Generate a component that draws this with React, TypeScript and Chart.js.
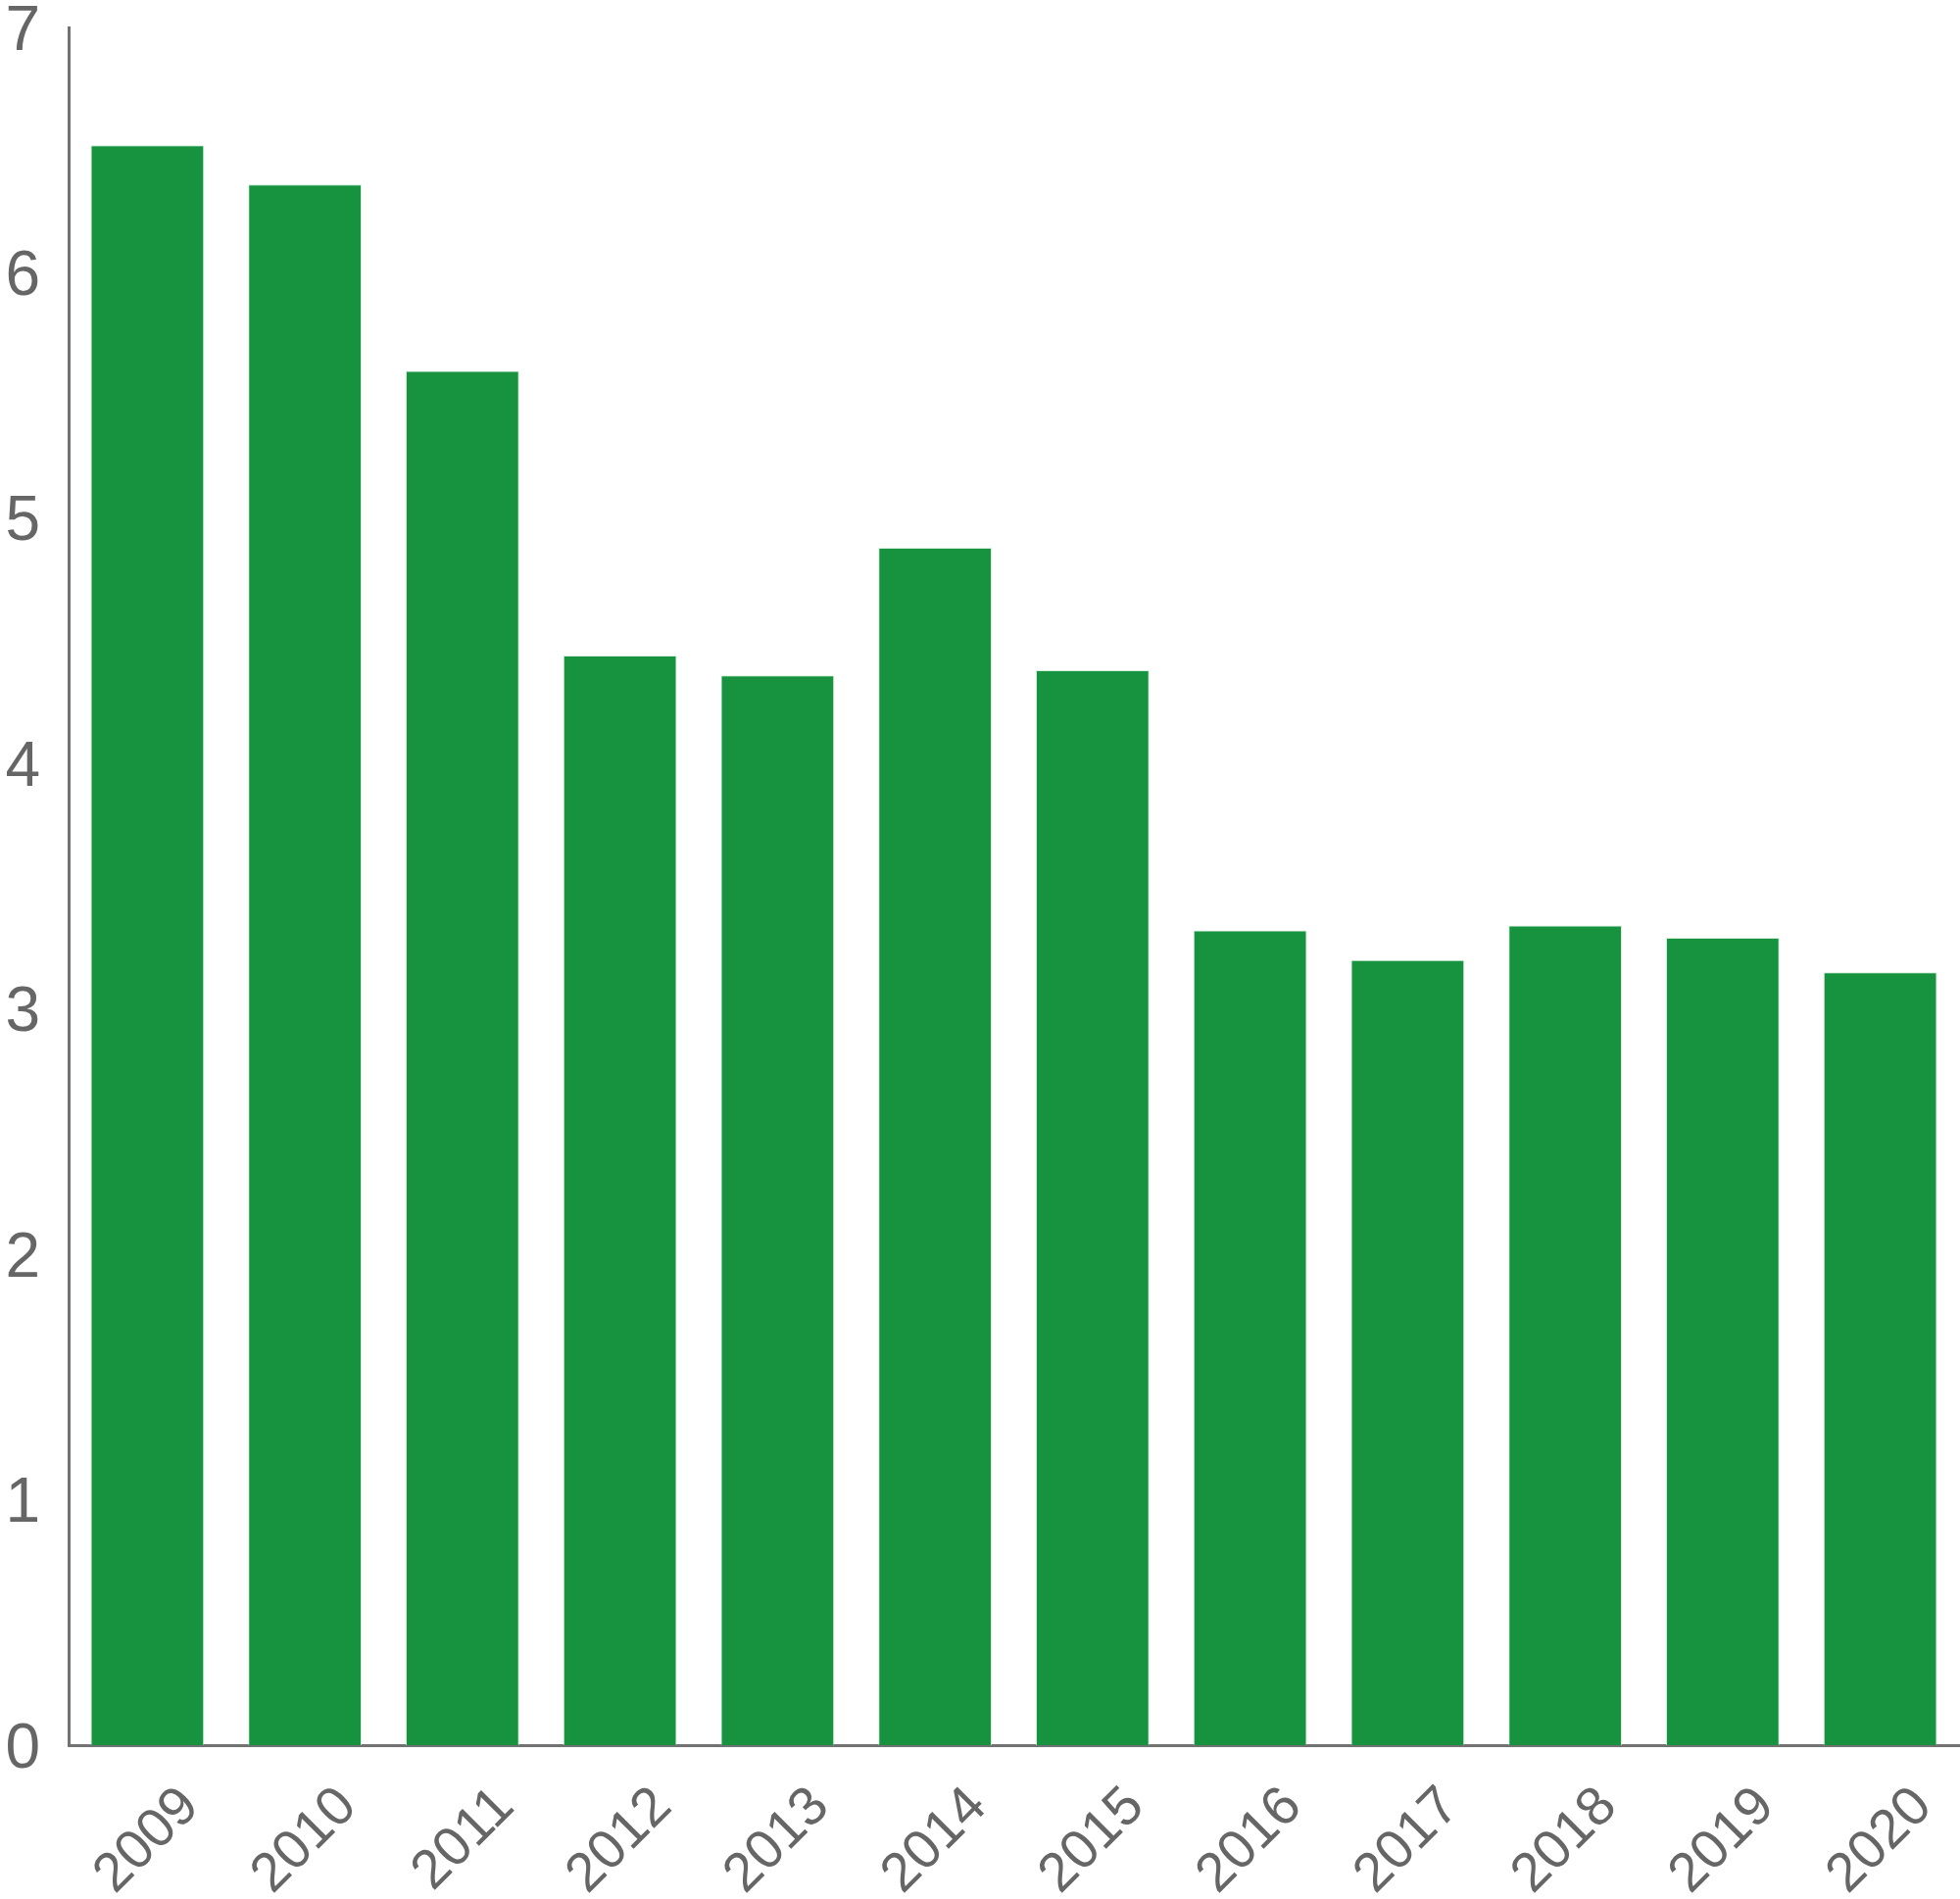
import { useEffect, useRef } from 'react'
import { Chart, registerables, type ChartOptions } from 'chart.js'

Chart.register(...registerables)

const YEARS = ['2009', '2010', '2011', '2012', '2013', '2014', '2015', '2016', '2017', '2018', '2019', '2020']
const VALUES = [6.52, 6.36, 5.6, 4.44, 4.36, 4.88, 4.38, 3.32, 3.2, 3.34, 3.29, 3.15]
const Y_TICKS = [0, 1, 2, 3, 4, 5, 6, 7]

const BAR_GREEN = '#179340'
const AXIS_GRAY = '#727272'
const TEXT_GRAY = '#666666'
const FONT = "'Helvetica Neue', Helvetica, Arial, sans-serif"

const CHART_OPTIONS: ChartOptions<'bar'> = {
  responsive: true,
  maintainAspectRatio: false,
  animation: false,
  layout: {
    padding: { top: 28, right: 1, bottom: 0, left: 0 },
  },
  plugins: {
    legend: { display: false },
    tooltip: { enabled: false },
  },
  scales: {
    x: {
      grid: { display: false },
      border: { display: true, color: AXIS_GRAY, width: 3 },
      ticks: {
        color: TEXT_GRAY,
        minRotation: 45,
        maxRotation: 45,
        autoSkip: false,
        padding: 22,
        labelOffset: 44,
        font: { family: FONT, size: 56 },
      },
      afterFit: (scale) => {
        scale.height = 157
      },
    },
    y: {
      min: 0,
      max: 7,
      grid: { display: false },
      border: { display: true, color: AXIS_GRAY, width: 3 },
      afterBuildTicks: (scale) => {
        scale.ticks = Y_TICKS.map((value) => ({ value }))
      },
      ticks: {
        color: TEXT_GRAY,
        padding: 21,
        labelOffset: 5,
        font: { family: FONT, size: 64, lineHeight: 0.1 },
      },
      afterFit: (scale) => {
        scale.width = 70
      },
    },
  },
}

export default function App() {
  const canvasRef = useRef<HTMLCanvasElement>(null)

  useEffect(() => {
    document.body.style.margin = '0'
    const canvas = canvasRef.current
    if (!canvas) return

    Chart.getChart(canvas)?.destroy()

    const chart = new Chart(canvas, {
      type: 'bar',
      data: {
        labels: YEARS,
        datasets: [
          {
            label: 'value',
            data: VALUES,
            backgroundColor: BAR_GREEN,
            borderColor: 'rgba(200, 235, 210, 0.8)',
            borderWidth: 1,
            barPercentage: 0.9,
            categoryPercentage: 0.8,
          },
        ],
      },
      options: CHART_OPTIONS,
    })

    return () => {
      chart.destroy()
    }
  }, [])

  return (
    <div style={{ width: 2000, height: 1938, position: 'relative', background: '#fff' }}>
      <canvas ref={canvasRef} />
    </div>
  )
}
